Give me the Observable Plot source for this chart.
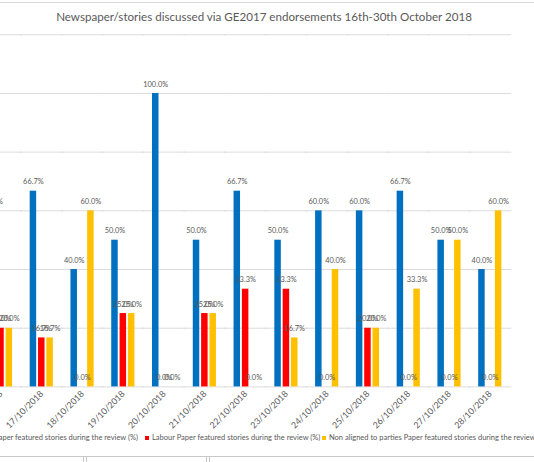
<!DOCTYPE html>
<html><head><meta charset="utf-8">
<script src="https://cdn.jsdelivr.net/npm/d3@7"></script>
<script src="https://cdn.jsdelivr.net/npm/@observablehq/plot@0.6"></script>
<style>
html,body{margin:0;padding:0;background:#fff;overflow:hidden;width:534px;height:462px;}
#wrap{position:relative;width:534px;height:462px;overflow:hidden;font-family:Lato,"Open Sans",sans-serif;color:#595959;}
#chart{position:absolute;left:-60px;top:0;}
#topline{position:absolute;left:0;top:2px;width:534px;border-top:1px solid #d9d9d9;}
#title{position:absolute;top:10px;left:0;width:528px;text-align:center;font-size:11.6px;white-space:nowrap;}
.leg{position:absolute;top:432px;font-size:7.5px;white-space:nowrap;line-height:12px;}
.sw{display:inline-block;width:4px;height:4px;margin-right:3px;vertical-align:middle;}
#bottom{position:absolute;left:0;top:456px;width:534px;height:8px;border-top:1px solid #c8c8c8;}
.sep{position:absolute;top:457px;height:6px;border-left:1px solid #c8c8c8;}
</style></head>
<body><div id="wrap">
<div id="topline"></div>
<div id="chart"></div>
<div id="title"></div>
<div id="legend"></div>
<div id="bottom"></div>
<div class="sep" style="left:83px"></div>
<div class="sep" style="left:86px"></div>
<div class="sep" style="left:206px"></div>
<div class="sep" style="left:209px"></div>
</div>
<script>
const title = "Newspaper/stories discussed via GE2017 endorsements 16th-30th October 2018";
const dates = ["16/10/2018","17/10/2018","18/10/2018","19/10/2018","20/10/2018","21/10/2018","22/10/2018","23/10/2018","24/10/2018","25/10/2018","26/10/2018","27/10/2018","28/10/2018"];
const series = ["Conservative Paper featured stories during the review (%)","Labour Paper featured stories during the review (%)","Non aligned to parties Paper featured stories during the review (%)"];
const conservative = [60, 66.7, 40, 50, 100, 50, 66.7, 50, 60, 60, 66.7, 50, 40];
const labour = [20, 16.7, 0, 25, 0, 25, 33.3, 33.3, 0, 20, 0, 0, 0];
const nonAligned = [20, 16.7, 60, 25, 0, 25, 0, 16.7, 40, 20, 33.3, 50, 60];
const colors = ["#0070C0","#FF0000","#FFC000"];
const yTicks = [0, 20, 40, 60, 80, 100, 120];

const values = [conservative, labour, nonAligned];
const rows = [];
dates.forEach((d, i) => series.forEach((s, j) => rows.push({date: d, series: s, value: values[j][i]})));

document.getElementById("title").textContent = title;

const chart = Plot.plot({
  width: 641, height: 493,
  marginLeft: 38.22, marginRight: 19.73, marginTop: 37, marginBottom: 76,
  style: {fontFamily: "Lato, 'Open Sans', sans-serif", color: "#595959", background: "transparent"},
  fx: {domain: dates, paddingInner: 0.3, paddingOuter: 0.15, label: null, axis: null},
  x: {domain: series, paddingInner: 0.23, paddingOuter: 0.215, axis: null},
  y: {domain: [0, 120], axis: null},
  color: {domain: series, range: colors},
  marks: [
    Plot.ruleY(yTicks, {stroke: "#d9d9d9", strokeWidth: 1, insetLeft: -7.5, insetRight: -7.5}),
    Plot.barY(rows, {fx: "date", x: "series", y: "value", fill: "series"}),
    Plot.text(rows, {fx: "date", x: "series", y: "value", text: d => d.value.toFixed(1) + "%", dy: -10, fontSize: 8, fill: "#595959"}),
    Plot.axisFx({anchor: "bottom", tickRotate: -45, tickSize: 0, tickPadding: 6, fontSize: 9.5, fill: "#595959", label: null})
  ]
});
document.getElementById("chart").appendChild(chart);

const legend = document.getElementById("legend");
const pos = [{right: 534 - 138}, {left: 145}, {left: 322}];
series.forEach((s, j) => {
  const el = document.createElement("div");
  el.className = "leg";
  if (pos[j].right !== undefined) el.style.right = pos[j].right + "px"; else el.style.left = pos[j].left + "px";
  const sw = document.createElement("span");
  sw.className = "sw"; sw.style.background = colors[j];
  el.appendChild(sw);
  el.appendChild(document.createTextNode(s));
  legend.appendChild(el);
});
</script>
</body></html>
